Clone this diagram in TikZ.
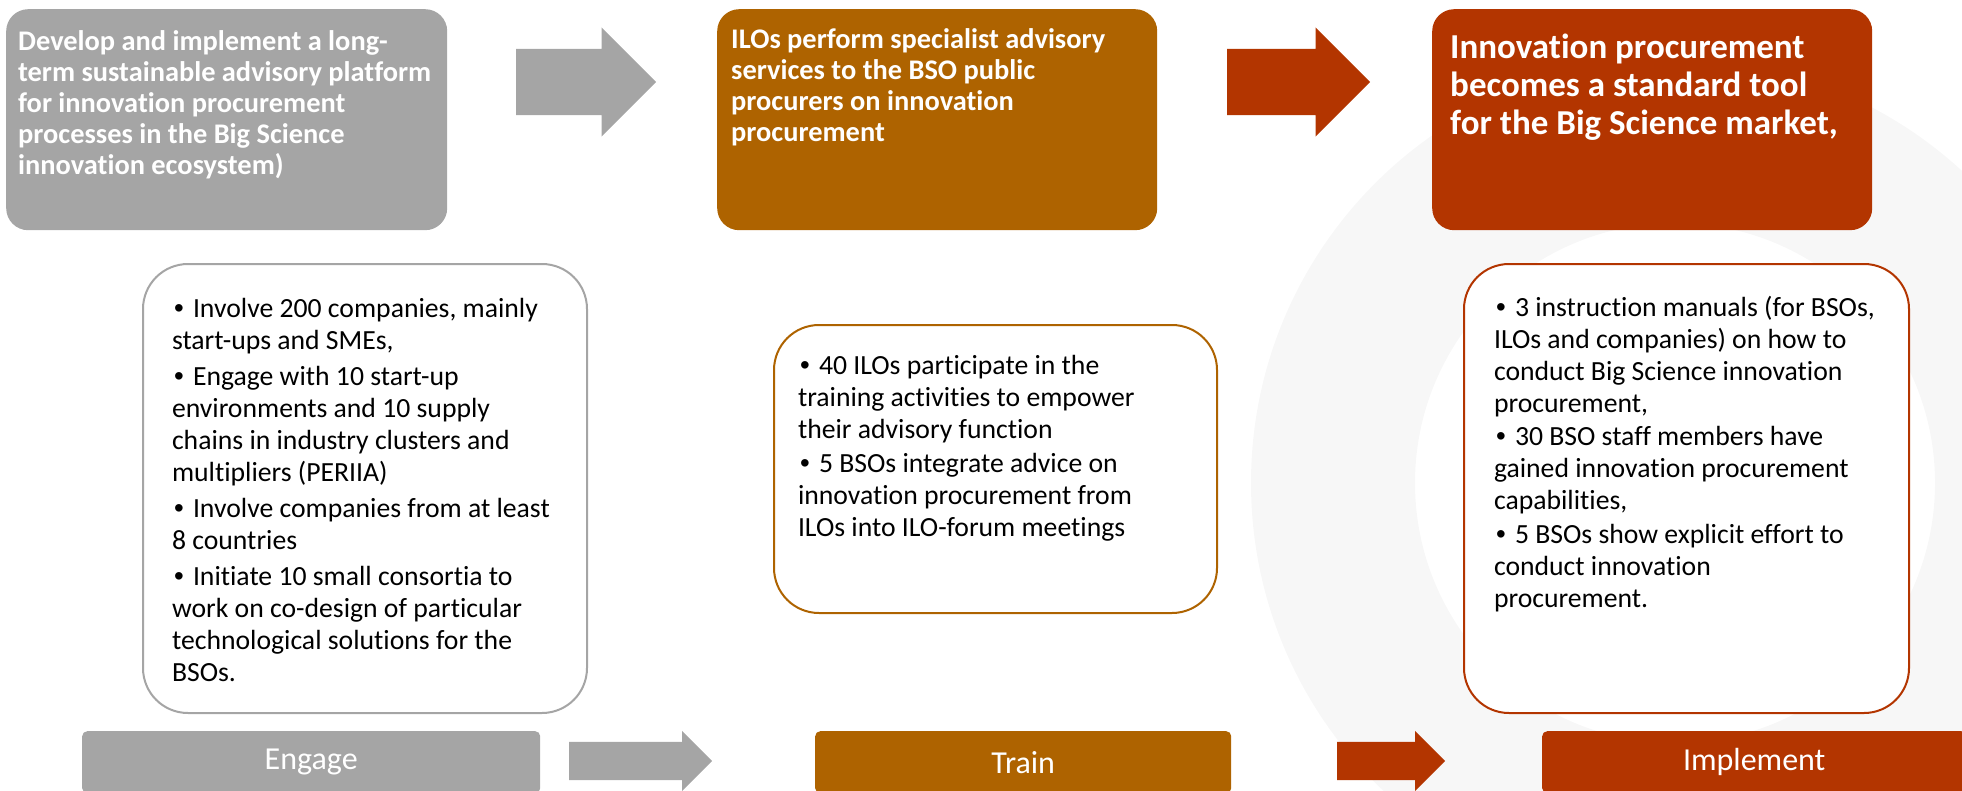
\documentclass[tikz,border=0pt]{standalone}
\usepackage{fontspec}
\setmainfont{Carlito}[Ligatures={NoCommon}]
\newfontfamily\bulfont{Liberation Sans}
\usetikzlibrary{shapes.arrows,positioning}
\definecolor{grayc}{HTML}{A5A5A5}
\definecolor{brownc}{HTML}{AE6300}
\definecolor{redc}{HTML}{B33500}
\definecolor{ringc}{HTML}{F7F7F7}
\newcommand{\bul}{\par\hangindent=21pt\hangafter=1\noindent\makebox[21pt][l]{\hspace{2pt}{\bulfont\textbullet}}}

\begin{document}
\begin{tikzpicture}[x=1pt,y=-1pt]
\tikzstyle{hd}=[anchor=north west, rounded corners=22pt, text=white, inner xsep=12pt, font=\bfseries\fontsize{28.4}{31}\selectfont]
\tikzstyle{lst}=[anchor=north west, draw, line width=2pt, fill=white, rounded corners=45pt, inner xsep=29pt, font=\fontsize{27.7}{32}\selectfont]
\tikzstyle{bar}=[anchor=north west, rounded corners=5pt, text=white, inner sep=0pt, minimum height=62pt, font=\fontsize{32}{38}\selectfont]
\tikzstyle{arw}=[single arrow, anchor=tail, inner xsep=0pt, inner ysep=33pt, single arrow head extend=21.5pt]
\tikzstyle{arws}=[single arrow, anchor=tail, inner xsep=0pt, inner ysep=19pt, single arrow head extend=11pt]
\useasboundingbox (0,0) rectangle (1962,790);

% background ring
\fill[ringc, even odd rule] (1675,483) circle[radius=424] (1675,483) circle[radius=260];

% goals
\node[hd, fill=grayc, inner ysep=19.3pt] (G1) at (6,9) {\parbox[t][182.4pt][t]{417pt}{\raggedright\strut Develop and implement a long-\\term sustainable advisory platform\\for innovation procurement\\processes in the Big Science\\innovation ecosystem)}};
\node[hd, fill=brownc, inner xsep=14pt, inner ysep=18pt] (G2) at (717,9) {\parbox[t][185pt][t]{412pt}{\raggedright\strut ILOs perform specialist advisory\\services to the BSO public\\procurers on innovation\\procurement}};
\node[hd, fill=redc, inner xsep=18pt, inner ysep=23pt, font=\bfseries\fontsize{35}{38}\selectfont] (G3) at (1432,9) {\parbox[t][175pt][t]{404pt}{\raggedright\strut Innovation procurement\\becomes a standard tool\\for the Big Science market,}};

\node[arw, fill=grayc, minimum height=140pt] (A1) at (516,82) {};
\node[arw, fill=redc, minimum height=143pt] (A2) at (1227,82) {};

% targets
\node[lst, draw=grayc, inner ysep=30.6pt] (L1) at (142,263) {\parbox[t][387.8pt][t]{386pt}{\raggedright\parskip=4pt
\bul\strut Involve 200 companies, mainly\\start-ups and SMEs,
\bul Engage with 10 start-up\\environments and 10 supply\\chains in industry clusters and\\multipliers (PERIIA)
\bul Involve companies from at least\\8 countries
\bul Initiate 10 small consortia to\\work on co-design of particular\\technological solutions for the\\BSOs.}};
\node[lst, draw=brownc, inner xsep=24pt, inner ysep=27.1pt] (L2) at (773,324) {\parbox[t][233.8pt][t]{395pt}{\raggedright\parskip=1.5pt
\bul\strut 40 ILOs participate in the\\training activities to empower\\their advisory function
\bul 5 BSOs integrate advice on\\innovation procurement from\\ILOs into ILO-forum meetings}};
\node[lst, draw=redc, inner xsep=30pt, inner ysep=29.6pt] (L3) at (1463,263) {\parbox[t][389.8pt][t]{385pt}{\raggedright\parskip=1.5pt
\bul\strut 3 instruction manuals (for BSOs,\\ILOs and companies) on how to\\conduct Big Science innovation\\procurement,
\bul 30 BSO staff members have\\gained innovation procurement\\capabilities,
\bul 5 BSOs show explicit effort to\\conduct innovation\\procurement.}};

% phases
\node[bar, fill=grayc, minimum width=458pt] (B1) at (82,731) {Engage};
\node[bar, fill=brownc, minimum width=416pt] (B2) at (815,731) {Train};
\node[bar, fill=redc, minimum width=424pt] (B3) at (1542,731) {Implement};

\node[arws, fill=grayc, minimum height=143pt] (A3) at (569,761) {};
\node[arws, fill=redc, minimum height=108pt] (A4) at (1337,761) {};
\end{tikzpicture}
\end{document}
